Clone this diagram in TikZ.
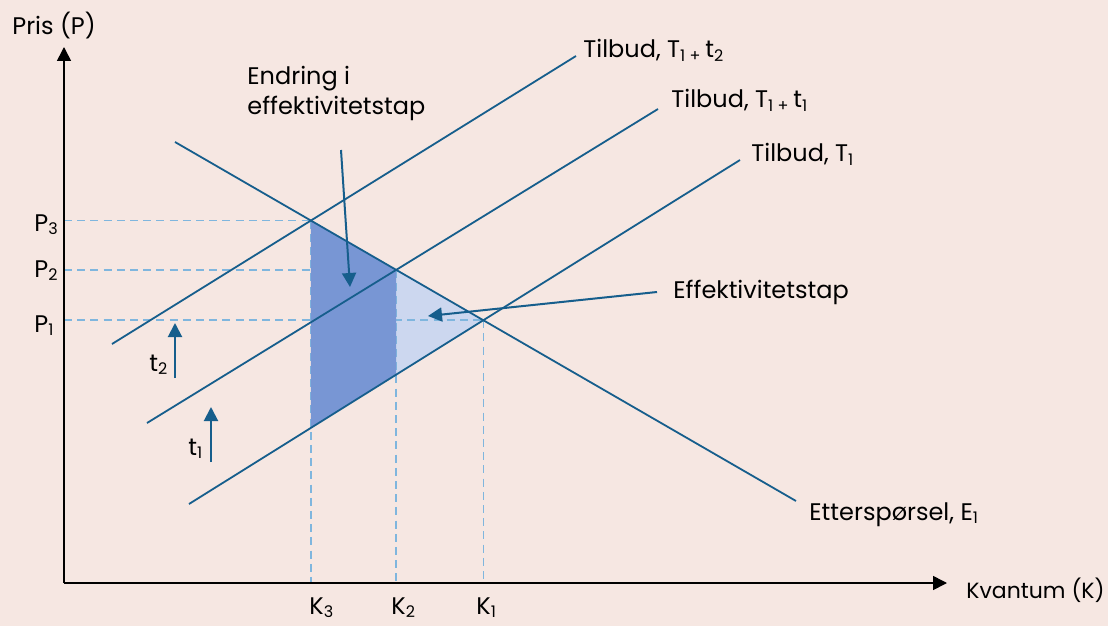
\documentclass[tikz,border=0pt]{standalone}
\usepackage{fontspec}
\setmainfont{Poppins}
\usetikzlibrary{positioning,arrows.meta}
\definecolor{bakgrunn}{RGB}{246,231,226}
\definecolor{linjeblaa}{RGB}{22,94,140}
\definecolor{stiplet}{RGB}{127,182,222}
\definecolor{moerkfyll}{RGB}{120,150,212}
\definecolor{lysfyll}{RGB}{204,215,239}

\begin{document}
\begin{tikzpicture}[x=0.5pt,y=-0.5pt,font=\fontsize{12}{15}\selectfont,
  akse/.style={draw=black,line width=0.8pt,-{Triangle[length=7pt,width=7pt]}},
  kurve/.style={draw=linjeblaa,line width=0.9pt},
  hjelp/.style={draw=stiplet,line width=0.8pt,dash pattern=on 4pt off 2.6pt},
  pil/.style={draw=linjeblaa,line width=1pt,-{Triangle[length=7pt,width=7pt]}},
  tekst/.style={anchor=base west,inner sep=0pt,text=black}]
% background
\fill[bakgrunn] (0,0) rectangle (1108,626);
\useasboundingbox (0,0) rectangle (1108,626);

% axes
\coordinate (O) at (64,583);
\coordinate (ytopp) at (64,47);
\coordinate (xende) at (947,583);

% demand and the three supply curves
\coordinate (E0) at (175,142);  \coordinate (E9) at (796,501);
\coordinate (Ta0) at (189,504); \coordinate (Ta9) at (740,160);
\coordinate (Tb0) at (147,423); \coordinate (Tb9) at (658,109);
\coordinate (Tc0) at (112,344); \coordinate (Tc9) at (576,56);

% equilibria
\coordinate (L1) at (intersection of E0--E9 and Ta0--Ta9);
\coordinate (L2) at (intersection of E0--E9 and Tb0--Tb9);
\coordinate (L3) at (intersection of E0--E9 and Tc0--Tc9);
\foreach \k in {1,2,3} {
  \coordinate (P\k) at (O |- L\k);
  \coordinate (K\k) at (L\k |- O);
}
\coordinate (B2) at (intersection of Ta0--Ta9 and L2--K2);
\coordinate (B3) at (intersection of Ta0--Ta9 and L3--K3);

% deadweight loss areas
\fill[lysfyll] (L2) -- (L1) -- (B2) -- cycle;
\foreach \k in {1,2,3} {
  \draw[hjelp] (P\k) -- (L\k);
  \draw[hjelp] (L\k) -- (K\k);
}
\fill[moerkfyll] (L3) -- (L2) -- (B2) -- (B3) -- cycle;

\draw[akse] (O) -- (ytopp);
\draw[akse] (O) -- (xende);
\draw[kurve] (E0) -- (E9);
\draw[kurve] (Ta0) -- (Ta9);
\draw[kurve] (Tb0) -- (Tb9);
\draw[kurve] (Tc0) -- (Tc9);

% tax shifts
\coordinate (t1fra) at (211,462); \coordinate (t1til) at (211,407);
\coordinate (t2fra) at (175,378); \coordinate (t2til) at (175,323);
\draw[pil] (t1fra) -- (t1til);
\draw[pil] (t2fra) -- (t2til);

% labels
\node[tekst] (prisakse) at (12,35) {Pris (P)};
\node[tekst,font=\fontsize{11}{13}\selectfont] (kvantakse) at (966,598) {Kvantum (K)};
\node[tekst] (lblTc) at (583,58) {Tilbud, T\textsubscript{1 +}\,t\textsubscript{2}};
\node[tekst] (lblTb) at (671,108) {Tilbud, T\textsubscript{1 +}\,t\textsubscript{1}};
\node[tekst] (lblTa) at (751,162) {Tilbud, T\textsubscript{1}};
\node[tekst] (lblE) at (809,520) {Etterspørsel, E\textsubscript{1}};
\node[tekst] (lblt1) at (188,455) {t\textsubscript{1}};
\node[tekst] (lblt2) at (149,371) {t\textsubscript{2}};
\foreach \k/\y in {1/332,2/277,3/231} {
  \node[tekst] (lblP\k) at (34,\y) {P\textsubscript{\k}};
}
\foreach \k/\x in {1/476,2/391,3/309} {
  \node[tekst] (lblK\k) at (\x,614) {K\textsubscript{\k}};
}
\node[tekst] (tap) at (673,298) {Effektivitetstap};
\node[tekst,anchor=north west,align=left] (endring) at (247,66) {Endring i\\effektivitetstap};

% pointers to the areas
\coordinate (tapspiss) at (428,316);
\coordinate (endringspiss) at (350,287);
\coordinate (tapstart) at (657,292);
\coordinate (endringstart) at (341,150);
\draw[pil] (tapstart) -- (tapspiss);
\draw[pil] (endringstart) -- (endringspiss);
\end{tikzpicture}
\end{document}
